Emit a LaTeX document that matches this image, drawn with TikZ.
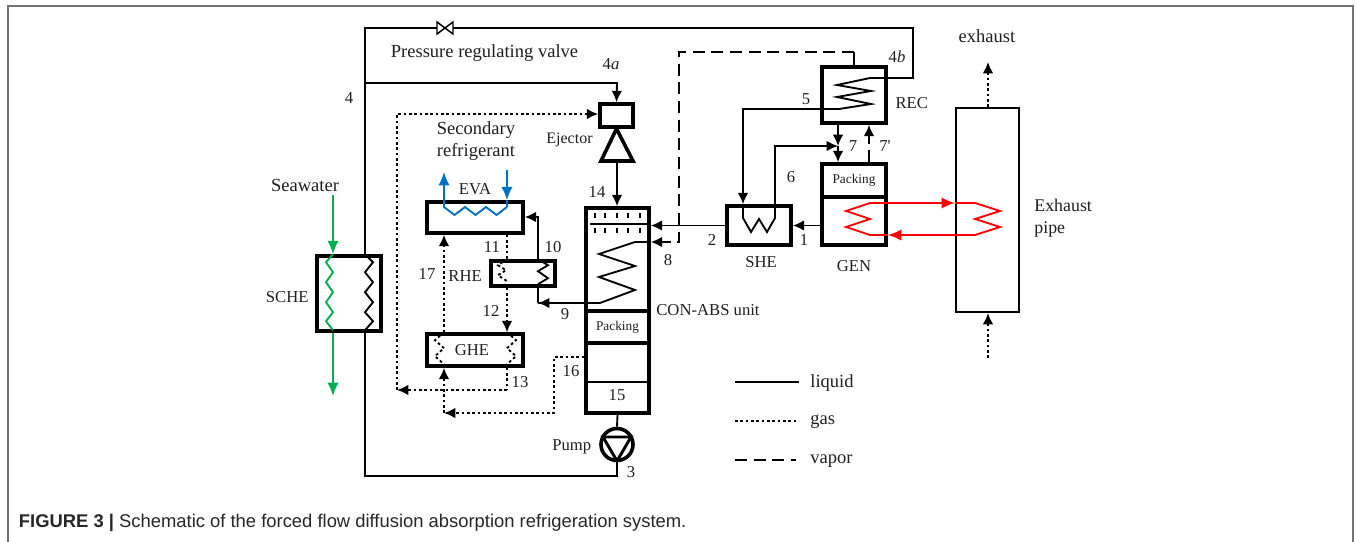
\documentclass[tikz,border=0pt]{standalone}
\usepackage{fontspec}
\setmainfont{Liberation Serif}
\setsansfont{Liberation Sans}
\usetikzlibrary{arrows.meta, positioning}
\definecolor{seawatergreen}{HTML}{00B050}
\definecolor{secondaryblue}{HTML}{0070C0}

\begin{document}
\begin{tikzpicture}[x=0.75pt, y=-0.75pt, >={Latex[length=8.5pt,width=8pt]}, line width=1.4pt, line join=miter,
    every node/.style={font=\fontsize{12.5}{15}\selectfont, text=black!88},
    box/.style args={#1 by #2}{draw, line width=2.7pt, minimum width=#1*0.75pt, minimum height=#2*0.75pt, inner sep=0pt},
    small/.style={font=\fontsize{10}{12}\selectfont},
    big/.style={font=\fontsize{13.9}{16.5}\selectfont},
    gas/.style={dash pattern=on 2pt off 2pt},
    vapor/.style={dash pattern=on 9pt off 5pt},
    seawater/.style={color=seawatergreen, >={Latex[length=10pt,width=8.5pt]}},
    secondary/.style={color=secondaryblue, >={Latex[length=10pt,width=8.5pt]}},
    hot/.style={color=red, >={Latex[length=10pt,width=8.5pt]}}]
    \useasboundingbox (0,0) rectangle (1356,542);

    % Frame
    \coordinate (fa) at (8,542);
    \coordinate (fb) at (8,6.5);
    \coordinate (fc) at (1353,6.5);
    \coordinate (fd) at (1353,542);
    \draw[line width=1.5pt, black!55] (fa) -- (fb) -- (fc) -- (fd);

    % Nodes
    \node[box=64 by 75] (sche) at (349,293.5) {};
    \node[box=96 by 31] (eva) at (475,217.5) {};
    \node[box=64 by 25] (rhe) at (523,273.5) {};
    \node[box=96 by 32] (ghe) at (475,350) {};
    \node[box=33 by 23] (ejector) at (616.5,115.5) {};
    \node[box=63 by 103] (contop) at (617.5,259.5) {};
    \node[box=63 by 32, small] (conpack) at (617.5,327) {Packing};
    \node[box=63 by 70] (conlow) at (617.5,378) {};
    \node[circle, draw, line width=2.7pt, minimum size=32*0.75pt, inner sep=0pt] (pump) at (617,444.5) {};
    \node[box=64 by 39] (she) at (759,225.5) {};
    \node[box=64 by 56] (rec) at (854,95) {};
    \node[box=64 by 33, small] (genpack) at (854,180.5) {Packing};
    \node[box=64 by 48] (gen) at (854,221) {};
    \node[box=63 by 204, line width=1.6pt] (pipe) at (987.5,210) {};

    % Labels
    \node[left=1pt of sche, yshift=-3pt] (tsche) {SCHE};
    \node[above=0pt of eva] (teva) {EVA};
    \node[left=1.5pt of rhe, yshift=-2pt] (trhe) {RHE};
    \node[left=2pt of pump, yshift=-1.5pt] (tpump) {Pump};
    \node[below=3pt of she, xshift=1.5pt] (tshe) {SHE};
    \node[below=6pt of gen] (tgen) {GEN};
    \node[right=1.75pt of rec, yshift=-6pt] (trec) {REC};
    \node (tghe) at (472,350) {GHE};
    \node[big] (tvalve) at (484.5,53) {Pressure regulating valve};
    \node[font=\fontsize{12}{15}\selectfont] (tejector) at (569.5,140) {Ejector};
    \node[big, align=center] (tsec) at (476,141.5) {Secondary\\refrigerant};
    \node[big] (tsea) at (305,185) {Seawater};
    \node (tcon) at (708,310) {CON-ABS unit};
    \node[big] (texh) at (987,36) {exhaust};
    \node[font=\fontsize{13.4}{16.5}\selectfont, align=left, anchor=west] (tpipe) at (1029,218.5) {Exhaust\\pipe};
    \node (n4) at (349,98) {4};
    \node (n4a) at (611,64) {4\textit{a}};
    \node (n4b) at (897,57) {4\textit{b}};
    \node (n1) at (804,240) {1};
    \node (n2) at (712,240) {2};
    \node (n3) at (631,472) {3};
    \node (n5) at (806,99) {5};
    \node (n6) at (791,177) {6};
    \node (n7) at (853,146) {7};
    \node (n7p) at (885,146) {7\textquotesingle};
    \node (n8) at (668,260) {8};
    \node (n9) at (565,314) {9};
    \node (n10) at (553,247) {10};
    \node (n11) at (492,247) {11};
    \node (n12) at (491,311) {12};
    \node (n13) at (520,382) {13};
    \node (n14) at (597,192) {14};
    \node (n15) at (617,395) {15};
    \node (n16) at (571,371) {16};
    \node (n17) at (427,274) {17};

    % Bends
    \coordinate (riser) at (365,83);
    \coordinate (topl) at (365,28);
    \coordinate (valve) at (445,28);
    \coordinate (topr) at (913,28);
    \coordinate (recin) at (913,78);
    \coordinate (ejin) at (617,83);
    \coordinate (botl) at (365,476);
    \coordinate (botr) at (617,476);
    \coordinate (ejbase) at (617,161);
    \coordinate (mix) at (838,146);
    \coordinate (shebend) at (775,146);
    \coordinate (recout) at (743,109);
    \coordinate (vapa) at (854,52);
    \coordinate (vapb) at (679,52);
    \coordinate (vapc) at (679,242);
    \coordinate (con9) at (538,303);
    \coordinate (rhe10) at (538,217);
    \coordinate (gas12) at (507,311);
    \coordinate (gas13) at (507,390);
    \coordinate (gasl) at (397,390);
    \coordinate (gast) at (397,114);
    \coordinate (gas17) at (444,300);
    \coordinate (gas16) at (444,413);
    \coordinate (gasm) at (554,413);
    \coordinate (gasn) at (554,357);
    \coordinate (seain) at (333,195);
    \coordinate (seaout) at (333,396);
    \coordinate (secout) at (444,172);
    \coordinate (secin) at (507,170);
    \coordinate (exhtop) at (988,62);
    \coordinate (exhbot) at (988,358);
    \coordinate (hota) at (870,203);
    \coordinate (hotb) at (975,203);
    \coordinate (hotc) at (975,235);
    \coordinate (hotd) at (870,235);

    % Paths
    \draw (sche.north -| riser) -- (riser) -- (topl) -- (topr) -- (recin) -- (870,78);
    \draw[->] (riser) -- (ejin) -- (ejector.north);
    \draw[fill=white, line width=1.1pt] (valve) ++(-8,-6) -- ++(16,12) -- ++(0,-12) -- ++(-16,12) -- cycle;
    \draw[->] (ejbase) -- (contop.north -| ejbase);
    \draw (sche.south -| riser) -- (botl) -- (botr) -- (pump.south);
    \draw (conlow.south) -- (pump.north);
    \draw[->] (she.west) -- (contop.east |- she.west);
    \draw[->] (gen.west |- she.west) -- (she.east);
    \draw[->] (rec.south -| mix) -- (mix);
    \draw[->] (mix) -- (genpack.north -| mix);
    \draw[->] (she.north -| shebend) -- (shebend) -- (mix);
    \draw[->] (rec.west |- recout) -- (recout) -- (she.north -| recout);
    \draw[->, vapor] (genpack.north -| 869,0) -- (rec.south -| 869,0);
    \draw (rec.north -| vapa) -- (vapa);
    \draw[->, vapor] (vapa) -- (vapb) -- (vapc) -- (contop.east |- vapc);
    \draw[->] (contop.west |- con9) -- (con9);
    \draw (con9) -- (rhe.south -| con9);
    \draw[->] (rhe.north -| con9) -- (rhe10) -- (eva.east |- rhe10);
    \draw[gas] (eva.south -| gas12) -- (rhe.north -| gas12);
    \draw[->, gas] (rhe.south -| gas12) -- (ghe.north -| gas12);
    \draw[gas] (ghe.south -| gas13) -- (gas13);
    \draw[->, gas] (gas13) -- (gasl);
    \draw[->, gas] (gasl) -- (gast) -- (ejector.west |- gast);
    \draw[->, gas] (ghe.north -| gas17) -- (eva.south -| gas17);
    \draw[->, gas] (gas16) -- (ghe.south -| gas16);
    \draw[->, gas] (conlow.west |- gasn) -- (gasn) -- (gasm) -- (gas16);
    \draw[->, gas] (pipe.north -| exhtop) -- (exhtop);
    \draw[->, gas] (exhbot) -- (pipe.south -| exhbot);
    \draw[->, secondary] (eva.north -| secout) ++(0,7) -- (secout);
    \draw[->, secondary] (secin) -- (eva.north -| secin);
    \draw[secondary] (eva.north -| secin) -- ++(0,7);
    \draw[->, seawater] (seain) -- (sche.north -| seain);
    \draw[->, seawater] (sche.south -| seaout) -- (seaout);
    \draw[->, hot] (hota) -- (pipe.west |- hota);
    \draw[hot] (pipe.west |- hota) -- (hotb);
    \draw[->, hot] (hotc) -- (888,235);
    \draw[hot] (888,235) -- (hotd);

    % Coils and internals
    \draw[line width=2.7pt] (ejector.south) -- (ejbase -| 633,0) -- (ejbase -| 601,0) -- cycle;
    \draw[line width=2.2pt] (pump.center) ++(-14,-7.5) -- ++(28,0) -- ++(-14,24) -- cycle;
    \draw (sche.north -| riser) -- ++(8,8) -- ++(-8,10) -- ++(8,10) -- ++(-8,10) -- ++(8,10) -- ++(-8,10) -- ++(8,9) -- ++(-8,9);
    \draw[seawater] (sche.north -| seain) -- ++(-7,8) -- ++(7,10) -- ++(-7,10) -- ++(7,10) -- ++(-7,10) -- ++(7,10) -- ++(-7,9) -- ++(7,9);
    \draw[secondary] (444,202) -- (444,207) -- ++(10.5,8) -- ++(10.5,-8) -- ++(10.5,8) -- ++(10.5,-8) -- ++(10.5,8) -- ++(10.5,-8);
    \draw (rhe.north -| con9) -- ++(10,6) -- ++(-10,6) -- ++(10,7) -- ++(-10,6);
    \draw[gas] (rhe.north -| gas12) -- ++(-9,6) -- ++(8,5) -- ++(-8,5) -- ++(9,6);
    \draw[gas] (ghe.north -| gas12) -- ++(9,8) -- ++(-9,8) -- ++(9,8) -- ++(-9,8);
    \draw[gas] (ghe.north -| gas17) -- ++(-9,8) -- ++(9,8) -- ++(-9,8) -- ++(9,8);
    \draw (contop.east |- vapc) -- (635,242) -- (599,254) -- (635,266) -- (599,277) -- (635,290) -- (600,303) -- (con9);
    \draw (contop.west |- 0,224) ++(6,0) -- (contop.east |- 0,224);
    \foreach \tx in {595,605,617,628,640} {
        \draw[line width=1pt] (\tx,213) -- (\tx,218);
        \draw[line width=1pt] (\tx,228) -- (\tx,233);
    }
    \draw (conlow.west |- 0,382) -- (conlow.east |- 0,382);
    \draw (870,78) -- (837,85) -- (871,91) -- (837,97) -- (871,104) -- (839,109) -- (rec.west |- 0,109);
    \draw (she.north -| recout) -- (743,218) -- (751,232) -- (759,219) -- (767,232) -- (775,218) -- (she.north -| shebend);
    \draw[hot] (hota) -- (846,211) -- (870,219) -- (846,227) -- (hotd);
    \draw[hot] (hotb) -- (1000,211) -- (975,219) -- (1000,227) -- (hotc);

    % Legend
    \coordinate (liqa) at (735,382);
    \coordinate (liqb) at (799,382);
    \coordinate (gasa) at (735,421);
    \coordinate (gasb) at (799,421);
    \coordinate (vapd) at (735,460);
    \coordinate (vape) at (796,460);
    \draw (liqa) -- (liqb);
    \draw[gas] (gasa) -- (gasb);
    \draw[vapor] (vapd) -- (vape);
    \node[big, right=4.5pt of liqb, yshift=-0.5pt] (tliq) {liquid};
    \node[big, right=4.5pt of gasb, yshift=-0.5pt] (tgas) {gas};
    \node[big, right=6.75pt of vape, yshift=-0.5pt] (tvap) {vapor};

    % Caption
    \node[anchor=west, inner sep=0pt, font=\sffamily\fontsize{13.8}{16}\selectfont, text=black!85] (caption) at (18,523) {\textbf{FIGURE 3 |} Schematic of the forced flow diffusion absorption refrigeration system.};
\end{tikzpicture}
\end{document}
